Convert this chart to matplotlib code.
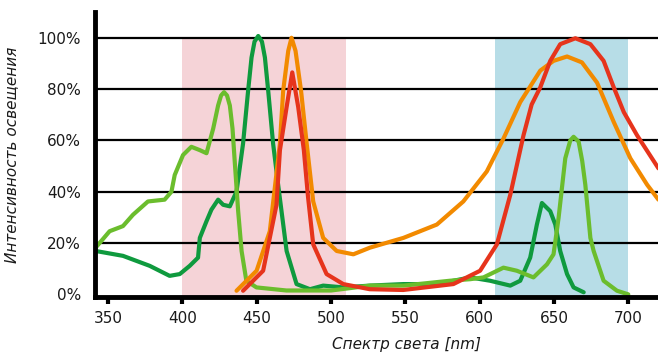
import matplotlib
matplotlib.use("Agg")
import matplotlib.pyplot as plt

# ---- data (wavelength nm, intensity %) ----
light_green_x = [341.6, 351, 360, 366.7, 376.8, 388, 392.6, 394.8, 400.4, 406, 411.7, 416.2, 420.7, 424, 426, 428,
                 430, 431.9, 433.7, 435.2, 437.5, 439.8, 443, 449.8, 470, 500, 526.2, 548.7, 580, 593.6, 602.6,
                 616, 625, 636.2, 645.3, 649.7, 653.1, 657.6, 661, 663.2, 666.6, 669, 671.1, 674.5, 676.7, 683.4,
                 692.4, 700]
light_green_y = [18.2, 24.6, 26.6, 31, 36.2, 36.9, 40, 46.5, 54.3, 57.5, 56.2, 55, 64.6, 73.6, 77.5, 78.8,
                 77.5, 73.6, 64.6, 51.7, 32.4, 16.9, 5.3, 2.7, 1.5, 1.5, 3.4, 3.4, 5.3, 5.9, 6.6,
                 10.4, 9.2, 6.6, 11.7, 15.6, 29.8, 53, 60, 61.4, 59.5, 52, 42.7, 22, 16.9, 5.3,
                 1.4, 0]

dark_green_x = [341.6, 360, 378, 391.4, 398.2, 404.9, 410.5, 411.7, 416.2, 419.5, 424, 427.4, 431.9, 436.4, 440.8,
                444.2, 446.5, 448.5, 451, 453.5, 455.5, 457.7, 461, 464.4, 470.1, 476.8, 485.8, 494.7, 508.2, 526,
                548.7, 571.2, 593.6, 607, 620.6, 627.3, 634, 638.5, 641.9, 647.5, 650.9, 654.2, 658.8, 663.2, 670]
dark_green_y = [16.9, 15, 11.1, 7.2, 7.9, 11.1, 14.3, 22, 28.5, 33, 36.9, 34.9, 34.3, 40.1, 58.8,
                79.4, 92.3, 98.5, 100.7, 98.5, 92.3, 79.4, 58.8, 42.7, 16.9, 4, 2, 3.4, 2.7, 3.4,
                4, 4, 6.6, 5.3, 3.4, 5.3, 14.3, 27.2, 35.6, 32.4, 27.2, 16.9, 7.9, 2.7, 0.8]

orange_x = [436.4, 449.9, 458.8, 465.6, 467.8, 471.2, 473.4, 476.1, 479.8, 483.6, 488, 494.7, 503.8, 515, 526.2,
            548.7, 571.2, 589, 604.8, 616, 627.3, 634, 640.8, 649.7, 658.8, 668.8, 679, 690.2, 701.4, 712.7, 720.3]
orange_y = [1.4, 9.2, 24.6, 58.8, 79.4, 94.9, 100, 94.9, 79.4, 58.8, 36.2, 22, 16.9, 15.6, 18.2,
            22, 27.2, 36.2, 47.9, 60.7, 74.9, 81, 87.2, 91, 92.7, 90.4, 82.5, 67.2, 53, 42.7, 36.9]

red_x = [440.8, 454.3, 463.3, 465.6, 470.1, 473.9, 477.9, 481.7, 484.5, 488, 497, 508.2, 526, 548.5, 582.3,
         600.3, 611.6, 620.6, 629.5, 635, 640.8, 647.5, 654.2, 664.4, 674.5, 683.4, 690.2, 697, 705.9, 720.3]
red_y = [1.4, 9.2, 34.9, 56.2, 73, 86.5, 73, 56.2, 38, 19.5, 7.9, 4, 2, 1.7, 4,
         9.2, 19.5, 38.8, 62, 74, 80.7, 91, 97.5, 99.8, 97.5, 91, 80.7, 71, 62, 49.1]

x_ticks = [350, 400, 450, 500, 550, 600, 650, 700]
y_ticks = [0, 20, 40, 60, 80, 100]
y_ticklabels = ["0%", "20%", "40%", "60%", "80%", "100%"]
pink_band = (400, 510)
blue_band = (610, 700)

# ---- figure ----
fig = plt.figure(figsize=(6.58, 3.56), dpi=100)
ax = fig.add_axes([0.144, 0.166, 0.856, 0.80])
ax.set_xlim(341, 720)
ax.set_ylim(-1, 110)

ax.fill_between(list(pink_band), -1, 100, color="#f5d3d7", lw=0, zorder=0)
ax.fill_between(list(blue_band), -1, 100, color="#b7dde7", lw=0, zorder=0)

for yv in y_ticks[1:]:
    ax.axhline(yv, color="black", lw=1.6, zorder=1)

lw = 3.0
kw = dict(lw=lw, solid_joinstyle="round", solid_capstyle="round")
ax.plot(dark_green_x, dark_green_y, color="#0f9a3e", zorder=3, **kw)
ax.plot(light_green_x, light_green_y, color="#6bbd2d", zorder=3, **kw)
ax.plot(orange_x, orange_y, color="#f28a00", zorder=4, **kw)
ax.plot(red_x, red_y, color="#e6341c", zorder=5, **kw)

for s in ["top", "right"]:
    ax.spines[s].set_visible(False)
ax.spines["left"].set_linewidth(3.5)
ax.spines["bottom"].set_linewidth(3.5)
ax.spines["left"].set_zorder(6)
ax.spines["bottom"].set_zorder(6)

ax.set_xticks(x_ticks)
ax.set_xticklabels([str(v) for v in x_ticks], fontsize=11, color="#1a1a1a")
ax.set_yticks(y_ticks)
ax.set_yticklabels(y_ticklabels, fontsize=11, color="#1a1a1a")
ax.tick_params(axis="x", length=5, width=3, pad=5, color="black")
ax.tick_params(axis="y", length=0, pad=10)

ax.set_xlabel("Спектр света [nm]", fontsize=11, style="italic", color="#1a1a1a")
ax.xaxis.set_label_coords(0.554, -0.14)
ax.set_ylabel("Интенсивность освещения", fontsize=11, style="italic", color="#1a1a1a")
ax.yaxis.set_label_coords(-0.135, 0.5)

fig.savefig("out.png", dpi=100)
